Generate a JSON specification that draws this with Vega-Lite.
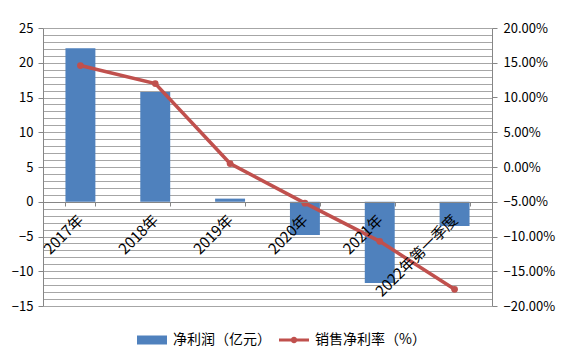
{
  "$schema": "https://vega.github.io/schema/vega-lite/v6.json",
  "autosize": {"type": "none"},
  "width": 449,
  "height": 278,
  "padding": {"left": 43, "top": 28, "right": 87, "bottom": 53},
  "background": "white",
  "config": {
    "view": {"stroke": null},
    "font": "Noto Sans CJK SC",
    "axis": {"labelFont": "Noto Sans CJK SC", "labelFontSize": 13, "labelColor": "#000000", "domainColor": "#868686", "tickColor": "#868686", "gridColor": "#A6A6A6", "title": null}
  },
  "data": {
    "values": [
      {"year": "2017年", "profit": 22.1, "margin": 0.146},
      {"year": "2018年", "profit": 15.8, "margin": 0.120},
      {"year": "2019年", "profit": 0.45, "margin": 0.005},
      {"year": "2020年", "profit": -4.8, "margin": -0.052},
      {"year": "2021年", "profit": -11.7, "margin": -0.107},
      {"year": "2022年第一季度", "profit": -3.5, "margin": -0.176}
    ]
  },
  "encoding": {
    "x": {
      "field": "year", "type": "ordinal", "sort": null,
      "scale": {"paddingInner": 0.6, "paddingOuter": 0.3},
      "axis": {"orient": "bottom", "offset": -104, "zindex": 1, "labelAngle": -45, "labelAlign": "right", "labelBaseline": "middle", "labelPadding": 11, "labelOverlap": false, "labelLimit": 0, "labelBound": false, "tickBand": "extent", "tickSize": 4, "grid": false, "domainColor": "#868686", "labelFontSize": 15}
    }
  },
  "layer": [
    {
      "mark": {"type": "bar", "color": "#4F81BD"},
      "encoding": {
        "y": {
          "field": "profit", "type": "quantitative",
          "scale": {"domain": [-15, 25], "nice": false, "zero": false},
          "axis": {
            "values": [-15,-14,-13,-12,-11,-10,-9,-8,-7,-6,-5,-4,-3,-2,-1,0,1,2,3,4,5,6,7,8,9,10,11,12,13,14,15,16,17,18,19,20,21,22,23,24,25],
            "labelExpr": "datum.value % 5 === 0 ? datum.label : ''",
            "grid": true, "gridWidth": 1,
            "tickSize": 5, "labelPadding": 5,
            "tickOpacity": {"condition": {"test": "datum.value % 5 === 0", "value": 1}, "value": 0},
            "domainColor": "#868686"
          }
        },
        "color": {
          "datum": "净利润（亿元）",
          "type": "nominal",
          "scale": {"domain": ["净利润（亿元）", "销售净利率（%）"], "range": ["#4F81BD", "#C0504D"]},
          "legend": {
            "title": null,
            "orient": "none",
            "legendX": 94,
            "legendY": 297,
            "direction": "horizontal",
            "labelFont": "Noto Sans CJK SC",
            "labelFontSize": 14,
            "labelColor": "#000000",
            "symbolSize": 900,
            "labelOffset": 6,
            "columnPadding": 8,
            "symbolStrokeWidth": 0,
            "encode": {
              "symbols": {
                "update": {
                  "shape": {"signal": "datum.value === '净利润（亿元）' ? 'M-1,-0.3H1V0.3H-1Z' : 'M-1,-0.1H1V0.1H-1Z M-0.22,0A0.22,0.22 0 1,1 0.22,0A0.22,0.22 0 1,1 -0.22,0Z'"},
                  "fill": {"signal": "datum.value === '净利润（亿元）' ? '#4F81BD' : '#C0504D'"},
                  "strokeWidth": {"value": 0},
                  "opacity": {"value": 1}
                }
              }
            }
          }
        }
      }
    },
    {
      "mark": {"type": "line", "strokeWidth": 3.5, "point": {"size": 45, "filled": true}},
      "encoding": {
        "y": {
          "field": "margin", "type": "quantitative",
          "scale": {"domain": [-0.2, 0.2], "nice": false, "zero": false},
          "axis": {"orient": "right", "values": [-0.2,-0.15,-0.1,-0.05,0,0.05,0.1,0.15,0.2], "format": ".2%", "grid": false, "tickSize": 5, "labelPadding": 6, "domainColor": "#868686"}
        },
        "color": {"datum": "销售净利率（%）", "type": "nominal"}
      }
    }
  ],
  "resolve": {"scale": {"y": "independent"}}
}
